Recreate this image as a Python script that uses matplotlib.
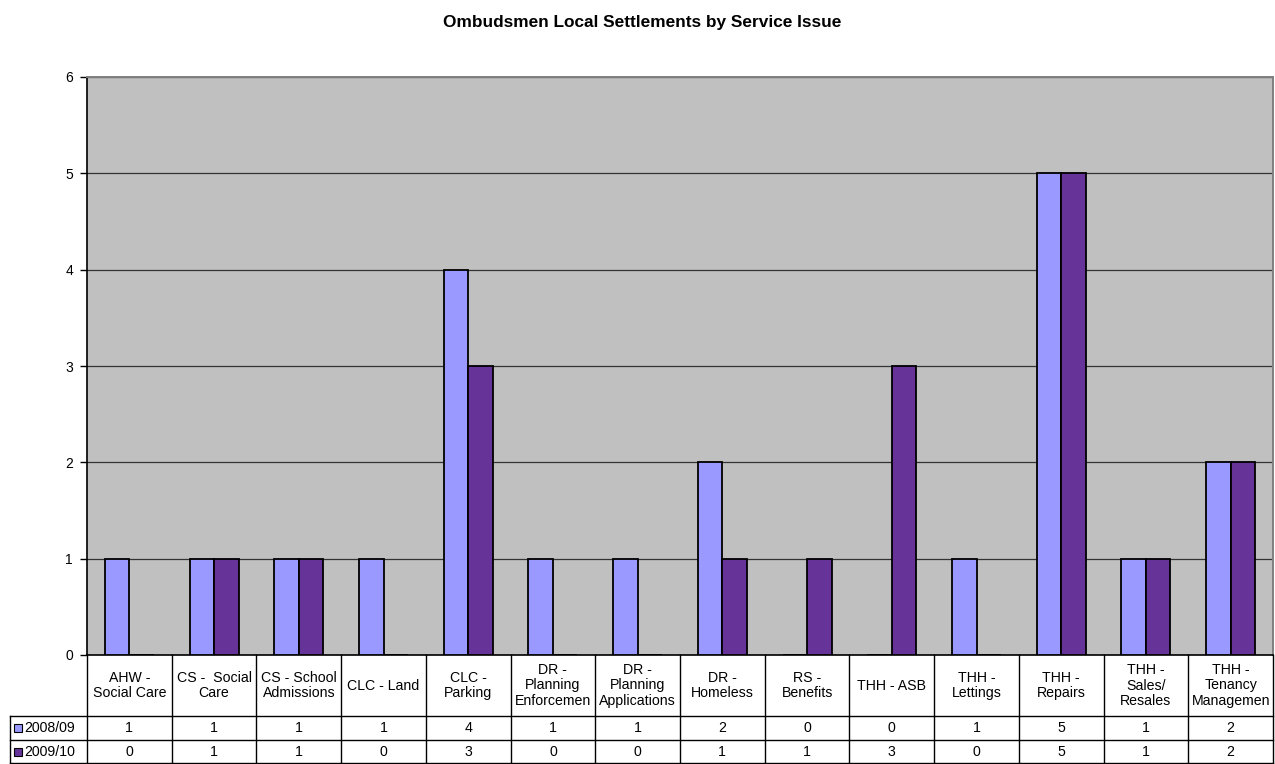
import matplotlib
matplotlib.use("Agg")
import matplotlib.pyplot as plt
import matplotlib.transforms as mtransforms
from matplotlib.lines import Line2D
from matplotlib.patches import Rectangle
import numpy as np

plt.rcParams['font.family'] = ['Liberation Sans', 'DejaVu Sans']

# ---- data -------------------------------------------------------------
categories = [
    "AHW -\nSocial Care", "CS -  Social\nCare", "CS - School\nAdmissions",
    "CLC - Land", "CLC -\nParking", "DR -\nPlanning\nEnforcemen",
    "DR -\nPlanning\nApplications", "DR -\nHomeless", "RS -\nBenefits",
    "THH - ASB", "THH -\nLettings", "THH -\nRepairs", "THH -\nSales/\nResales",
    "THH -\nTenancy\nManagemen",
]
series_names = ["2008/09", "2009/10"]
values_2008_09 = [1, 1, 1, 1, 4, 1, 1, 2, 0, 0, 1, 5, 1, 2]
values_2009_10 = [0, 1, 1, 0, 3, 0, 0, 1, 1, 3, 0, 5, 1, 2]
y_ticks = [0, 1, 2, 3, 4, 5, 6]
title = "Ombudsmen Local Settlements by Service Issue"

series_values = [values_2008_09, values_2009_10]
series_colors = ["#9999FF", "#663399"]

# ---- figure layout (pixel based) ---------------------------------------
W, H = 1275, 764
fig = plt.figure(figsize=(W / 100, H / 100), dpi=100)
fig.patch.set_facecolor("white")

plot_left, plot_right = 87, 1273
plot_top, plot_bottom = 77, 655
ax = fig.add_axes([plot_left / W, 1 - plot_bottom / H,
                   (plot_right - plot_left) / W, (plot_bottom - plot_top) / H])
ax.set_facecolor("#C0C0C0")

n = len(categories)
x = np.arange(n)
bw = 0.29
for k, (vals, col) in enumerate(zip(series_values, series_colors)):
    offset = (k - 0.5) * bw
    ax.bar(x + offset, vals, bw, color=col, edgecolor="black",
           linewidth=1.3, zorder=3)

ax.set_xlim(-0.5, n - 0.5)
ax.set_ylim(y_ticks[0], y_ticks[-1])
ax.set_yticks(y_ticks)
ax.set_xticks([])
ax.yaxis.grid(True, color="#333333", linewidth=0.9, zorder=1)
ax.set_axisbelow(True)
ax.tick_params(axis="y", length=5, width=1, labelsize=10, pad=5,
               color="black")
for side in ("left", "bottom"):
    ax.spines[side].set_color("black")
    ax.spines[side].set_linewidth(1.2)
for side in ("top", "right"):
    ax.spines[side].set_color("#808080")
    ax.spines[side].set_linewidth(1.4)

fig.text(642 / W, 1 - 22 / H, title, ha="center", va="center",
         fontsize=12.4, fontweight="bold")

# ---- data table below the plot ----------------------------------------
blend = mtransforms.blended_transform_factory(ax.transData, fig.transFigure)
row_edges_px = [plot_bottom, 716, 740, 763]          # header, row 1, row 2
row_edges = [1 - p / H for p in row_edges_px]
label_left = 10 / W
ax_right = ax.get_position().x1
line_kw = dict(color="black", linewidth=1.0)

# horizontal rules
for j in (1, 2, 3):
    fig.add_artist(Line2D([label_left, ax_right], [row_edges[j], row_edges[j]],
                          transform=fig.transFigure, **line_kw))

# vertical rules between categories
for i in range(n + 1):
    xe = i - 0.5
    fig.add_artist(Line2D([xe, xe], [row_edges[0], row_edges[3]],
                          transform=blend, **line_kw))
fig.add_artist(Line2D([label_left, label_left], [row_edges[1], row_edges[3]],
                      transform=fig.transFigure, **line_kw))

# category headers
header_y = (row_edges[0] + row_edges[1]) / 2
for i, cat in enumerate(categories):
    fig.text(x[i], header_y, cat, transform=blend, ha="center", va="center",
             fontsize=10.2, linespacing=1.1, multialignment="center")

# value rows with legend keys
for r, (name, vals, col) in enumerate(zip(series_names, series_values,
                                          series_colors)):
    ymid = (row_edges[r + 1] + row_edges[r + 2]) / 2
    for i, v in enumerate(vals):
        fig.text(x[i], ymid, str(v), transform=blend, ha="center",
                 va="center", fontsize=10.2)
    key = Rectangle((14 / W, ymid - 4 / H), 8 / W, 8 / H,
                    transform=fig.transFigure, facecolor=col,
                    edgecolor="black", linewidth=0.8)
    fig.add_artist(key)
    fig.text(24.5 / W, ymid, name, ha="left", va="center", fontsize=10.2)

fig.savefig("out.png", dpi=100)
